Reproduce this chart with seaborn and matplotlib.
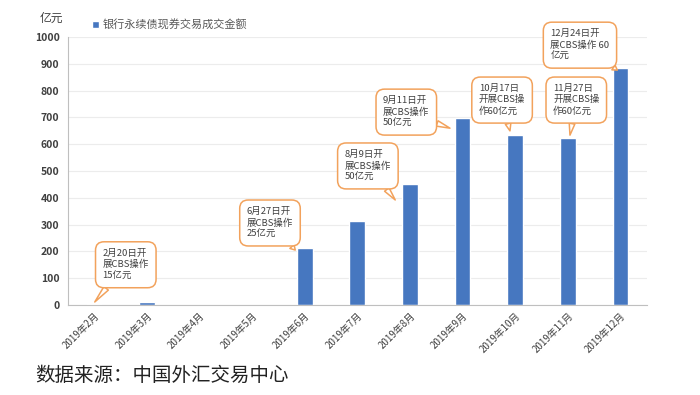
import numpy as np
import pandas as pd
import matplotlib
matplotlib.use('Agg')
import matplotlib.pyplot as plt
import seaborn as sns

# data (亿元)
months = ['2019年2月', '2019年3月', '2019年4月', '2019年5月', '2019年6月', '2019年7月',
          '2019年8月', '2019年9月', '2019年10月', '2019年11月', '2019年12月']
volume = [3, 10, 0, 0, 213, 312, 453, 697, 634, 623, 884]

# CBS operation callouts: month index, text
callout_idx = [0, 4, 6, 7, 8, 9, 10]
callout_text = ['2月20日开\n展CBS操作\n15亿元',
                '6月27日开\n展CBS操作\n25亿元',
                '8月9日开\n展CBS操作\n50亿元',
                '9月11日开\n展CBS操作\n50亿元',
                '10月17日\n开展CBS操\n作60亿元',
                '11月27日\n开展CBS操\n作60亿元',
                '12月24日开\n展CBS操作 60\n亿元']
# box centre (x offset from its bar, y in data units) and pointer tip
box_dx = [0.60, -0.66, -0.80, -1.07, -0.25, 0.16, -0.77]
box_y = [150, 306, 519, 720, 765, 765, 970]
tip_dx = [0.01, -0.18, -0.28, -0.24, -0.10, 0.04, -0.06]
tip_y = [11, 205, 392, 660, 650, 634, 877]

df = pd.DataFrame({'month': months, 'volume': volume})

sns.set_theme(style='white')
plt.rcParams['font.family'] = ['Noto Sans CJK SC', 'DejaVu Sans']

blue = '#4677C0'
orange = '#F2A25C'
grey = '#404040'

fig = plt.figure(figsize=(7, 3.95), dpi=100)
ax = fig.add_axes([0.097, 0.228, 0.827, 0.678])

sns.barplot(data=df, x='month', y='volume', color=blue, width=0.3,
            saturation=1, ax=ax, label='银行永续债现券交易成交金额')

ax.set_ylim(0, 1000)
ax.set_xlim(-0.5, len(months) - 0.5)
ax.set_yticks(np.arange(0, 1001, 100))
ax.yaxis.grid(True, color='#ECECEC', linewidth=0.8)
ax.set_axisbelow(True)
ax.set_xlabel('')
ax.set_ylabel('')

for s in ['top', 'right']:
    ax.spines[s].set_visible(False)
for s in ['left', 'bottom']:
    ax.spines[s].set_color('#BFBFBF')
    ax.spines[s].set_linewidth(0.8)

# ticks between categories like the original
ax.set_xticks(np.arange(len(months)))
ax.set_xticks(np.arange(-0.5, len(months)), minor=True)
ax.tick_params(axis='x', which='major', length=0, pad=4)
ax.tick_params(axis='x', which='minor', length=3, color='#BFBFBF', direction='out')
ax.tick_params(axis='y', length=3, color='#BFBFBF', direction='out', pad=3)
ax.set_xticklabels(months, rotation=45, ha='right', rotation_mode='anchor',
                   fontsize=7, color=grey)
for lb in ax.get_yticklabels():
    lb.set_fontsize(7.5)
    lb.set_color(grey)
    lb.set_fontweight('bold')

# callouts
for i, txt, dx, by, tx, ty in zip(callout_idx, callout_text, box_dx, box_y, tip_dx, tip_y):
    ax.annotate(txt, xy=(i + tx, ty), xytext=(i + dx, by),
                ha='center', va='center', fontsize=6.8, color=grey,
                linespacing=1.3, multialignment='left',
                bbox=dict(boxstyle='round,pad=0.75,rounding_size=0.9',
                          fc='white', ec=orange, lw=1.1),
                arrowprops=dict(arrowstyle='wedge,tail_width=0.6,shrink_factor=0.5',
                                fc='white', ec=orange, lw=1.1,
                                shrinkA=0, shrinkB=0),
                zorder=5)

leg = ax.legend(loc='lower left', bbox_to_anchor=(0.03, 1.0), frameon=False,
                fontsize=8, handlelength=0.6, handleheight=0.6, handletextpad=0.4,
                borderaxespad=0.2)
for t in leg.get_texts():
    t.set_color('#595959')

fig.text(0.057, 0.945, '亿元', fontsize=8.5, color=grey)
fig.text(0.05, 0.035, '数据来源：中国外汇交易中心', fontsize=14, color='#222222')

fig.savefig('out.png', dpi=100)
